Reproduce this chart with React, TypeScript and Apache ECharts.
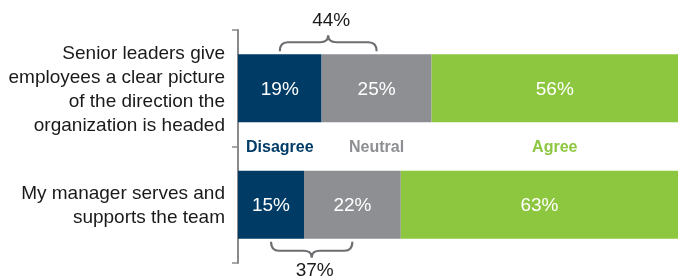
import React, { useEffect, useRef } from "react";
import * as echarts from "echarts";

const categories = [
  "Senior leaders give\nemployees a clear picture\nof the direction the\norganization is headed",
  "My manager serves and\nsupports the team",
];
const seriesNames = ["Disagree", "Neutral", "Agree"];
const disagree = [19, 15];
const neutral = [25, 22];
const agree = [56, 63];
const bracketLabels = ["44%", "37%"];
const bracketSides = ["top", "bottom"];

const COLORS = ["#003b66", "#8e8f93", "#8dc63f"];
const BAR_W = 68;
const FONT = "'Liberation Sans', Arial, Helvetica, sans-serif";

export default function App() {
  const ref = useRef<HTMLDivElement>(null);
  useEffect(() => {
    if (!ref.current) return;
    const chart = echarts.init(ref.current, undefined, { renderer: "svg" });
    const values = [disagree, neutral, agree];

    const barSeries = seriesNames.map((name, i) => ({
      name,
      type: "bar",
      stack: "total",
      barWidth: BAR_W,
      data: values[i],
      itemStyle: { color: COLORS[i] },
      label: {
        show: true,
        position: "inside",
        formatter: "{c}%",
        color: "#ffffff",
        fontSize: 19,
        fontFamily: FONT,
      },
      z: 2,
    }));

    // legend-like labels centered on the first bar's segments
    const legendData = seriesNames.map((name, i) => {
      let start = 0;
      for (let k = 0; k < i; k++) start += values[k][0];
      return [start, start + values[i][0], 0, i];
    });

    const legendSeries = {
      type: "custom",
      data: legendData,
      encode: { x: [0, 1], y: 2 },
      renderItem: (params: any, api: any) => {
        const s = api.value(0);
        const e = api.value(1);
        const idx = api.value(3);
        const p1 = api.coord([s, 0]);
        const p2 = api.coord([e, 0]);
        const band = api.size([0, 1])[1];
        return {
          type: "text",
          style: {
            x: (p1[0] + p2[0]) / 2,
            y: p1[1] + band / 2,
            text: seriesNames[idx],
            fill: COLORS[idx],
            font: `bold 16px ${FONT}`,
            align: "center",
            verticalAlign: "middle",
          },
        };
      },
      z: 3,
    };

    const bracketData = categories.map((_, ci) => {
      const a = disagree[ci] / 2;
      const b = disagree[ci] + neutral[ci] / 2;
      return [a, b, ci];
    });

    const bracketSeries = {
      type: "custom",
      data: bracketData,
      encode: { x: [0, 1], y: 2 },
      renderItem: (params: any, api: any) => {
        const a = api.value(0);
        const b = api.value(1);
        const ci = api.value(2);
        const pa = api.coord([a, ci]);
        const pb = api.coord([b, ci]);
        const up = bracketSides[ci] === "top";
        const dir = up ? -1 : 1;
        const edge = pa[1] + dir * (BAR_W / 2);
        const y0 = edge + dir * 3;
        const yh = edge + dir * 12;
        const yt = edge + dir * 19;
        const x1 = pa[0];
        const x2 = pb[0];
        const xm = (x1 + x2) / 2;
        const r = 8;
        const d =
          `M${x1},${y0} Q${x1},${yh} ${x1 + r},${yh} ` +
          `L${xm - r},${yh} Q${xm},${yh} ${xm},${yt} ` +
          `Q${xm},${yh} ${xm + r},${yh} ` +
          `L${x2 - r},${yh} Q${x2},${yh} ${x2},${y0}`;
        return {
          type: "group",
          children: [
            {
              type: "path",
              shape: { pathData: d },
              style: { stroke: "#6d6e71", lineWidth: 2.2, fill: null },
            },
            {
              type: "text",
              style: {
                x: xm + 3,
                y: edge + dir * (up ? 35 : 31),
                text: bracketLabels[ci],
                fill: "#1a1a1a",
                font: `19px ${FONT}`,
                align: "center",
                verticalAlign: "middle",
              },
            },
          ],
        };
      },
      z: 3,
    };

    chart.setOption({
      animation: false,
      grid: { left: 238, right: 0, top: 30, bottom: 16 },
      xAxis: {
        type: "value",
        min: 0,
        max: 100,
        show: false,
      },
      yAxis: {
        type: "category",
        data: categories,
        inverse: true,
        axisLine: { show: true, lineStyle: { color: "#8a8a8a", width: 2 } },
        axisTick: { show: true, length: 6, lineStyle: { color: "#8a8a8a", width: 1.5 } },
        axisLabel: {
          color: "#1a1a1a",
          fontSize: 19,
          lineHeight: 24,
          fontFamily: FONT,
          margin: 13,
          align: "right",
        },
        splitLine: { show: false },
      },
      series: [...barSeries, legendSeries, bracketSeries],
    });
    return () => chart.dispose();
  }, []);
  return (
    <div
      ref={ref}
      style={{ position: "fixed", left: 0, top: 0, width: 678, height: 279 }}
    />
  );
}
